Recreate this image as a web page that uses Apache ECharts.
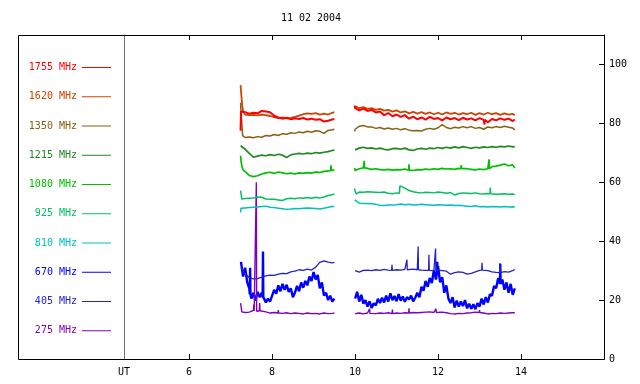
<!DOCTYPE html>
<html><head><meta charset="utf-8">
<script src="https://cdn.jsdelivr.net/npm/echarts@6/dist/echarts.min.js"></script>
<style>html,body{margin:0;padding:0;background:#fff}#c{width:640px;height:384px}</style>
</head><body><div id="c"></div>
<script>
// ---------- texts & ticks ----------
const titleText = '11 02 2004';
const xMin = 4.43, xMax = 16;
const xTickValues = [6, 8, 10, 12, 14];
const xFirstLabel = 'UT';
const yMin = 0, yMax = 110;
const yTickValues = [0, 20, 40, 60, 80, 100];
const GAP_T = 9.75;

// ---------- sampling times ----------
const T1 = [7.25,7.35,7.45,7.55,7.65,7.75,7.85,7.95,8.05,8.15,8.25,8.35,8.45,8.55,8.65,8.75,8.85,8.95,9.05,9.15,9.25,9.35,9.45,9.50];
const T2 = [10.0,10.1,10.2,10.3,10.4,10.5,10.6,10.7,10.8,10.9,11.0,11.1,11.2,11.3,11.4,11.5,11.6,11.7,11.8,11.9,12.0,12.1,12.2,12.3,12.4,12.5,12.6,12.7,12.8,12.9,13.0,13.1,13.2,13.3,13.4,13.5,13.6,13.7,13.8,13.85];
const TF1 = [7.25,7.3,7.35,7.4,7.45,7.5,7.55,7.6,7.65,7.7,7.75,7.8,7.85,7.9,7.95,8,8.05,8.1,8.15,8.2,8.25,8.3,8.35,8.4,8.45,8.5,8.55,8.6,8.65,8.7,8.75,8.8,8.85,8.9,8.95,9,9.05,9.1,9.15,9.2,9.25,9.3,9.35,9.4,9.45,9.5];
const TF2 = [10,10.05,10.1,10.15,10.2,10.25,10.3,10.35,10.4,10.45,10.5,10.55,10.6,10.65,10.7,10.75,10.8,10.85,10.9,10.95,11,11.05,11.1,11.15,11.2,11.25,11.3,11.35,11.4,11.45,11.5,11.55,11.6,11.65,11.7,11.75,11.8,11.85,11.9,11.95,12,12.05,12.1,12.15,12.2,12.25,12.3,12.35,12.4,12.45,12.5,12.55,12.6,12.65,12.7,12.75,12.8,12.85,12.9,12.95,13,13.05,13.1,13.15,13.2,13.25,13.3,13.35,13.4,13.45,13.5,13.55,13.6,13.65,13.7,13.75,13.8,13.85];

// ---------- 1755 MHz ----------
const v1755_1 = [84.0,83.8,83.3,83.6,83.4,84.2,84.0,83.8,82.6,82.0,81.6,81.9,81.4,81.7,81.5,81.8,81.3,81.6,81.2,81.4,80.6,80.9,81.3,81.5];
const v1755_2 = [85.2,84.4,85.0,84.2,84.6,83.7,84.0,82.8,83.5,82.4,83.0,82.2,82.8,81.6,82.3,81.4,82.0,81.3,82.2,81.5,81.8,81.0,82.0,81.4,81.8,81.1,81.9,81.3,81.7,81.0,81.8,81.2,80.4,81.5,81.0,81.7,81.2,81.6,80.8,81.3];
const x1755 = [[7.24,77.5],[9.99,86.0]];
const s1755 = [[13.12,81.2,79.6]];

// ---------- 1620 MHz ----------
const v1620_1 = [91.0,83.0,82.8,82.9,82.7,83.0,82.8,82.5,82.1,81.8,82.0,81.7,81.9,82.2,82.6,83.1,83.4,83.2,83.5,83.0,83.3,83.0,83.6,83.8];
const v1620_2 = [85.8,85.2,85.5,84.9,85.2,84.6,84.9,84.3,84.6,84.0,84.4,83.7,84.1,83.4,83.9,83.3,83.8,83.2,83.7,83.1,83.6,83.0,83.7,83.2,83.6,83.0,83.5,83.1,83.6,82.9,83.5,83.0,83.6,83.1,83.5,82.9,83.4,83.0,83.2,82.8];
const x1620 = [[7.24,93.0],[7.265,88.5],[7.28,86.0],[7.30,84.0]];
const s1620 = [];

// ---------- 1350 MHz ----------
const v1350_1 = [84.0,75.2,75.4,75.1,75.5,75.3,75.9,75.7,76.2,75.9,76.5,76.3,76.8,76.6,77.1,76.8,77.3,77.0,77.5,77.3,76.6,77.6,77.8,78.0];
const v1350_2 = [78.0,79.0,79.3,78.8,78.8,78.3,78.6,78.1,78.4,78.0,78.3,77.8,78.2,77.7,77.5,77.6,77.4,78.0,78.3,78.0,78.5,79.6,78.6,78.2,78.7,78.4,78.9,78.5,78.9,78.3,78.6,78.0,78.8,78.5,78.9,78.6,79.0,78.7,78.4,77.8];
const x1350 = [[7.24,87.0],[7.27,80.0],[7.29,75.8],[9.99,77.3]];
const s1350 = [];

// ---------- 1215 MHz ----------
const v1215_1 = [72.0,71.2,69.8,68.5,68.9,69.2,69.0,69.4,69.1,69.5,69.2,68.4,69.3,69.6,69.8,69.6,69.9,69.7,70.1,69.9,70.2,70.4,70.8,71.0];
const v1215_2 = [71.0,71.6,71.9,71.5,71.7,71.3,71.6,71.2,71.0,71.4,71.5,71.2,71.6,71.0,70.8,71.3,71.5,71.2,71.6,71.4,71.8,71.5,71.9,71.6,72.0,71.7,72.1,71.8,71.5,71.9,71.7,72.0,71.8,72.1,71.9,72.2,72.0,72.3,72.0,72.1];
const x1215 = [[7.24,72.4]];
const s1215 = [];

// ---------- 1080 MHz ----------
const v1080_1 = [67.5,63.6,62.3,61.9,62.2,62.8,63.2,63.4,63.0,63.5,63.2,62.9,63.1,62.8,63.2,63.0,63.3,63.1,63.5,63.3,63.7,63.9,64.1,64.2];
const v1080_2 = [64.0,64.6,64.9,64.7,64.4,64.6,64.3,64.2,64.4,64.1,64.3,64.2,64.5,64.1,64.0,64.3,64.2,64.5,64.3,64.6,64.4,64.7,64.5,64.6,64.4,64.7,64.5,64.6,64.4,64.2,64.5,64.3,64.6,65.3,65.5,65.8,66.2,65.6,65.9,64.8];
const x1080 = [[7.24,69.0],[7.27,65.5],[7.30,64.2],[9.99,64.8]];
const s1080 = [[9.42,64.0,65.8],[10.22,64.9,67.3],[11.30,64.1,66.1],[12.56,64.6,65.8],[13.23,64.6,67.8]];

// ---------- 925 MHz ----------
const v925_1 = [56.2,54.5,54.6,54.7,55.0,54.9,54.3,54.2,54.2,54.0,53.8,54.4,54.6,54.4,54.7,54.6,54.8,54.6,54.9,54.7,55.0,55.5,55.8,56.0];
const v925_2 = [57.0,56.7,56.6,56.8,56.7,56.6,56.5,56.7,56.3,56.1,56.4,59.0,58.0,57.2,56.8,56.5,56.4,56.6,56.5,56.4,56.7,56.5,56.3,56.5,55.7,56.2,56.4,56.3,56.2,56.4,56.1,56.0,56.2,56.1,55.9,56.0,56.1,55.9,56.0,55.8];
const x925 = [[7.24,57.2],[7.27,54.3],[9.99,57.9],[10.03,56.0],[11.07,56.3],[11.08,58.8]];
const s925 = [[13.26,56.1,58.2]];

// ---------- 810 MHz ----------
const v810_1 = [51.2,51.3,51.4,51.5,51.6,51.8,51.9,51.5,51.4,51.2,51.0,50.8,50.9,51.1,51.0,51.2,51.3,51.2,51.1,50.9,51.2,51.5,51.8,51.8];
const v810_2 = [53.5,52.9,52.8,52.8,52.7,52.5,52.2,52.1,52.3,52.3,52.4,52.6,52.4,52.5,52.3,52.4,52.5,52.4,52.3,52.2,52.4,52.3,52.2,52.3,52.1,52.2,52.0,51.9,51.8,52.0,51.7,51.8,51.6,51.8,51.7,51.6,51.8,51.6,51.7,51.6];
const x810 = [[7.24,49.8],[9.99,54.0]];
const s810 = [];

// ---------- 670 MHz (fine sampling) ----------
const v670_1 = [33.0,28.0,31.0,26.0,24.0,20.5,22.5,19.8,22.8,21.0,22.5,20.8,19.2,20.5,19.5,21.5,23.5,22.2,25.0,23.0,25.5,23.5,25.2,22.8,24.0,21.0,22.5,24.8,23.0,26.0,24.2,26.5,25.0,28.0,26.5,29.5,27.0,28.5,24.0,26.0,21.5,22.5,20.0,21.5,19.5,20.5];
const v670_2 = [20.5,22.8,19.5,21.8,18.8,20.0,17.8,19.6,17.3,18.9,18.2,20.4,19.0,20.8,19.2,21.5,19.5,22.3,20.0,21.4,
                19.6,22.0,19.8,21.2,19.4,21.0,20.2,21.5,19.6,20.8,22.5,21.0,24.5,23.2,26.5,24.5,27.5,25.8,30.2,27.0,
                31.5,26.0,27.8,22.5,25.0,20.5,19.0,21.0,17.5,19.8,17.8,19.5,18.0,20.0,17.2,18.8,17.0,18.6,16.9,19.0,
                17.8,20.5,18.5,21.0,19.2,22.0,21.5,24.8,24.0,27.5,25.0,27.0,23.5,26.0,22.5,25.5,21.8,24.0];
const x670 = [];
const s670 = [[7.47,22.0,31.0],[7.78,21.0,36.5],[11.98,29.0,33.0],[13.50,25.5,32.3]];

// ---------- 405 MHz ----------
const v405_1 = [31.0,29.0,27.6,27.2,27.3,27.8,28.2,28.5,28.4,28.8,29.1,29.0,29.6,29.8,30.3,30.1,30.5,30.2,31.2,32.8,33.3,32.9,32.6,32.8];
const v405_2 = [30.0,29.5,30.1,30.2,30.0,30.3,30.1,30.4,30.2,30.0,30.3,30.2,30.4,30.3,30.5,30.3,30.2,30.1,29.9,30.0,30.2,30.0,29.8,28.8,29.3,29.6,29.4,28.8,29.1,29.6,30.1,30.4,30.0,29.6,29.4,29.3,29.7,29.5,30.0,30.4];
const x405 = [];
const s405 = [[10.89,30.1,32.0],[11.25,30.3,33.7],[11.52,30.3,38.2],[11.78,30.1,35.4],[11.94,30.0,37.5],[13.06,30.2,32.7],[13.49,29.3,32.5]];

// ---------- 275 MHz ----------
const v275_1 = [18.0,15.8,15.9,16.5,16.8,16.2,16.0,15.6,15.8,15.6,15.5,15.7,15.4,15.6,15.5,15.3,15.6,15.4,15.5,15.3,15.6,15.4,15.5,15.6];
const v275_2 = [15.4,15.6,15.3,15.6,15.5,15.4,15.6,15.5,15.7,15.4,15.6,15.5,15.7,15.6,15.8,15.7,15.8,15.9,16.0,15.8,16.1,15.9,15.7,15.4,15.3,15.5,15.4,15.6,15.7,15.9,15.8,15.6,15.3,15.5,15.4,15.6,15.5,15.6,15.7,15.7];
const x275 = [[7.24,19.0],[7.27,16.0]];
const s275 = [[7.56,16.3,18.5],[7.62,16.2,60.0],[7.70,16.4,19.0],[8.15,15.6,16.6],[10.35,15.5,17.0],[10.9,15.4,16.8],[11.3,15.6,17.2],[11.95,15.8,17.0],[13.0,15.8,16.6]];

// ---------- series table (legend order top->bottom) ----------
const defs = [
  {name:'1755 MHz', color:'#ff0000', t1:T1, v1:v1755_1, t2:T2, v2:v1755_2, extra:x1755, spikes:s1755, w:2.0},
  {name:'1620 MHz', color:'#cc4400', t1:T1, v1:v1620_1, t2:T2, v2:v1620_2, extra:x1620, spikes:s1620, w:1.8},
  {name:'1350 MHz', color:'#886010', t1:T1, v1:v1350_1, t2:T2, v2:v1350_2, extra:x1350, spikes:s1350, w:1.5},
  {name:'1215 MHz', color:'#228822', t1:T1, v1:v1215_1, t2:T2, v2:v1215_2, extra:x1215, spikes:s1215, w:1.7},
  {name:'1080 MHz', color:'#00c000', t1:T1, v1:v1080_1, t2:T2, v2:v1080_2, extra:x1080, spikes:s1080, w:1.7},
  {name:'925 MHz',  color:'#00c060', t1:T1, v1:v925_1,  t2:T2, v2:v925_2,  extra:x925,  spikes:s925,  w:1.5},
  {name:'810 MHz',  color:'#00c0c0', t1:T1, v1:v810_1,  t2:T2, v2:v810_2,  extra:x810,  spikes:s810,  w:1.5},
  {name:'670 MHz',  color:'#0000ff', t1:TF1, v1:v670_1, t2:TF2, v2:v670_2, extra:x670,  spikes:s670,  w:2.4},
  {name:'405 MHz',  color:'#2222cc', t1:T1, v1:v405_1,  t2:T2, v2:v405_2,  extra:x405,  spikes:s405,  w:1.3},
  {name:'275 MHz',  color:'#8000c0', t1:T1, v1:v275_1,  t2:T2, v2:v275_2,  extra:x275,  spikes:s275,  w:1.4}
];

function build(d) {
  const pts = [];
  d.t1.forEach((t, i) => pts.push([t, d.v1[i]]));
  d.t2.forEach((t, i) => pts.push([t, d.v2[i]]));
  d.extra.forEach(p => pts.push([p[0], p[1]]));
  d.spikes.forEach(s => { pts.push([s[0] - 0.008, s[1]]); pts.push([s[0], s[2]]); pts.push([s[0] + 0.008, s[1]]); });
  pts.push([GAP_T, null]);
  pts.sort((a, b) => a[0] - b[0]);
  return pts;
}

const FONT = 'DejaVu Sans Mono';
const G = {left: 124, right: 36, top: 35, bottom: 25};
const W = 640, H = 384, FRAME_LEFT = 18;

const drawOrder = ['670 MHz','405 MHz','275 MHz','810 MHz','925 MHz','1080 MHz','1215 MHz','1350 MHz','1620 MHz','1755 MHz'];
const series = drawOrder.map(n => {
  const d = defs.find(x => x.name === n);
  return {
    name: d.name, type: 'line', data: build(d), xAxisIndex: 0, yAxisIndex: 0,
    symbol: 'none', showSymbol: false, connectNulls: false, silent: true,
    lineStyle: {color: d.color, width: d.w}, itemStyle: {color: d.color},
    emphasis: {disabled: true}
  };
});

const chart = echarts.init(document.getElementById('c'), null, {renderer: 'canvas'});
chart.setOption({
  animation: false,
  backgroundColor: '#ffffff',
  grid: {left: G.left, right: G.right, top: G.top, bottom: G.bottom, containLabel: false, show: false},
  legend: {
    orient: 'vertical', align: 'right', right: W - 111, top: 60.5, padding: 0,
    itemWidth: 29, itemHeight: 1, itemGap: 15.25, icon: 'rect', selectedMode: false,
    textStyle: {fontFamily: FONT, fontSize: 10, lineHeight: 14},
    data: defs.map(d => ({name: d.name, textStyle: {color: d.color}}))
  },
  xAxis: [
    {type: 'value', position: 'bottom', min: xMin, max: xMax,
     axisLine: {show: true, onZero: false, lineStyle: {color: '#000', width: 1}},
     axisTick: {show: true, inside: true, length: 5, customValues: xTickValues, lineStyle: {color: '#000'}},
     axisLabel: {show: true, customValues: [xMin].concat(xTickValues), margin: 8, color: '#000', fontFamily: FONT, fontSize: 10,
       formatter: v => (Math.abs(v - xMin) < 1e-6 ? xFirstLabel : String(v))},
     splitLine: {show: false}},
    {type: 'value', position: 'top', min: xMin, max: xMax,
     axisLine: {show: true, onZero: false, lineStyle: {color: '#000', width: 1}},
     axisTick: {show: true, inside: true, length: 5, customValues: xTickValues, lineStyle: {color: '#000'}},
     axisLabel: {show: false}, splitLine: {show: false}}
  ],
  yAxis: [
    {type: 'value', position: 'right', min: yMin, max: yMax,
     axisLine: {show: true, onZero: false, lineStyle: {color: '#000', width: 1}},
     axisTick: {show: true, inside: true, length: 5, customValues: yTickValues, lineStyle: {color: '#000'}},
     axisLabel: {show: true, customValues: yTickValues, margin: 5, color: '#000', fontFamily: FONT, fontSize: 10},
     splitLine: {show: false}},
    {type: 'value', position: 'left', min: yMin, max: yMax,
     axisLine: {show: true, onZero: false, lineStyle: {color: '#707070', width: 1}},
     axisTick: {show: false}, axisLabel: {show: false}, splitLine: {show: false}}
  ],
  graphic: [
    {type: 'rect', silent: true, z: 0,
     shape: {x: FRAME_LEFT + 0.5, y: G.top + 0.5, width: (W - G.right) - FRAME_LEFT, height: (H - G.bottom) - G.top},
     style: {fill: 'none', stroke: '#000', lineWidth: 1}},
    {type: 'text', silent: true, x: (FRAME_LEFT + W - G.right) / 2, y: 18,
     style: {text: titleText, font: '10px "DejaVu Sans Mono"', fill: '#000', textAlign: 'center', textVerticalAlign: 'middle'}}
  ],
  series: series
});
</script>
</body></html>
